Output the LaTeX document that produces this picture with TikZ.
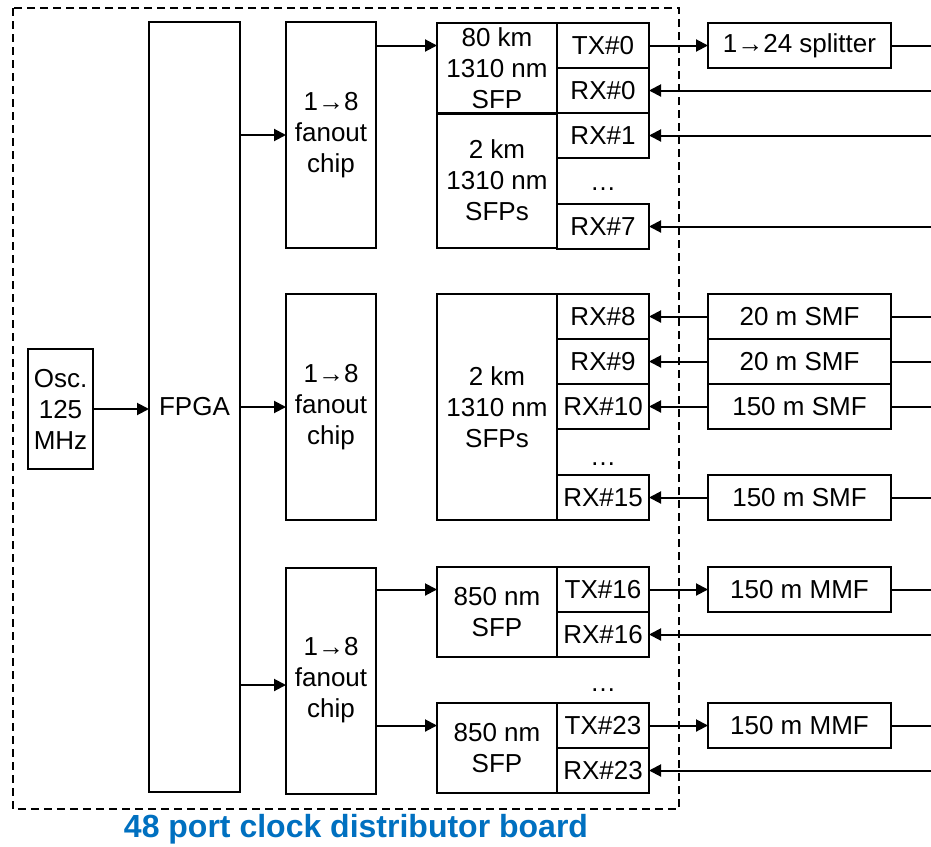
\documentclass[tikz,border=0pt]{standalone}
\usepackage{fontspec}
\setmainfont{Liberation Sans}
\usetikzlibrary{positioning, arrows.meta}
\definecolor{boardblue}{HTML}{0070C0}
\newcommand{\lbl}{\fontsize{13}{15.5}\selectfont}

\begin{document}
\begin{tikzpicture}[x=0.5pt, y=-0.5pt, node distance=0pt, >={Triangle[length=6pt,width=6pt]},
   blk/.style={draw, line width=1pt, inner sep=0pt, outer sep=0pt, align=center, font=\lbl},
   port/.style={blk, minimum width=46pt, minimum height=22.5pt},
   fiber/.style={blk, minimum width=91.5pt, minimum height=22.5pt},
   sfp/.style={blk, minimum width=60pt},
   fan/.style={blk, minimum width=45pt, minimum height=113pt},
   link/.style={line width=1pt}]
   \useasboundingbox (0,0) rectangle (931,846);
   \coordinate (rim) at (931,0);
   \draw[line width=0.8pt, dash pattern=on 4pt off 2.5pt] (13,8) rectangle (679,809);

   \node[blk, minimum width=32.5pt, minimum height=60pt] (osc) at (60.5,409) {Osc.\\125\\MHz};
   \node[blk, minimum width=45.5pt, minimum height=385pt] (fpga) at (194.5,407) {FPGA};
   \node[fan] (fan_0) at (331,135) {1→8\\fanout\\chip};
   \node[fan] (fan_1) at (331,407) {1→8\\fanout\\chip};
   \node[fan] (fan_2) at (331,680.5) {1→8\\fanout\\chip};

   \node[port, anchor=north west] (tx_0) at (557,23) {TX\#0};
   \node[port, below=of tx_0] (rx_0) {RX\#0};
   \node[port, below=of rx_0] (rx_1) {RX\#1};
   \node[port, anchor=south west] (rx_7) at (557,249) {RX\#7};
   \node[font=\lbl] (dots_0) at (603,189) {…};
   \node[sfp, minimum height=45.5pt, anchor=north east] (sfp_0) at (tx_0.north west) {80 km\\1310 nm\\SFP};
   \node[sfp, minimum height=67.5pt, anchor=north east] (sfp_1) at (rx_1.north west) {2 km\\1310 nm\\SFPs};
   \node[fiber, right=29.5pt of tx_0] (split) {1→24 splitter};

   \node[sfp, minimum height=113pt, anchor=north west] (sfp_2) at (437,294) {2 km\\1310 nm\\SFPs};
   \node[port, anchor=north west] (rx_8) at (sfp_2.north east) {RX\#8};
   \node[port, below=of rx_8] (rx_9) {RX\#9};
   \node[port, below=of rx_9] (rx_10) {RX\#10};
   \node[port, anchor=south west] (rx_15) at (sfp_2.south east) {RX\#15};
   \node[font=\lbl] (dots_1) at (603,464) {…};
   \node[fiber, right=29.5pt of rx_8] (smf_8) {20 m SMF};
   \node[fiber, right=29.5pt of rx_9] (smf_9) {20 m SMF};
   \node[fiber, right=29.5pt of rx_10] (smf_10) {150 m SMF};
   \node[fiber, right=29.5pt of rx_15] (smf_15) {150 m SMF};

   \node[sfp, minimum height=45pt, anchor=north west] (sfp_16) at (437,567) {850 nm\\SFP};
   \node[port, anchor=north west] (tx_16) at (sfp_16.north east) {TX\#16};
   \node[port, below=of tx_16] (rx_16) {RX\#16};
   \node[sfp, minimum height=45pt, anchor=north west] (sfp_23) at (437,703) {850 nm\\SFP};
   \node[port, anchor=north west] (tx_23) at (sfp_23.north east) {TX\#23};
   \node[port, below=of tx_23] (rx_23) {RX\#23};
   \node[font=\lbl] (dots_2) at (603,690) {…};
   \node[fiber, right=29.5pt of tx_16] (mmf_16) {150 m MMF};
   \node[fiber, right=29.5pt of tx_23] (mmf_23) {150 m MMF};

   \node[font=\bfseries\fontsize{16}{19}\selectfont, text=boardblue] (board) at (356,829) {48 port clock distributor board};

   \path[->, link]
    (osc) edge (fpga.west |- osc)
    (fpga.east |- fan_0) edge (fan_0)
    (fpga.east |- fan_1) edge (fan_1)
    (fpga.east |- {(0,685)}) edge (fan_2.west |- {(0,685)})
    (fan_0.east |- tx_0) edge (sfp_0.west |- tx_0)
    (fan_2.east |- tx_16) edge (sfp_16.west |- tx_16)
    (fan_2.east |- tx_23) edge (sfp_23.west |- tx_23)
    (tx_0) edge (split)
    (tx_16) edge (mmf_16)
    (tx_23) edge (mmf_23)
    (rim |- rx_0) edge (rx_0)
    (rim |- rx_1) edge (rx_1)
    (rim |- rx_7) edge (rx_7)
    (smf_8) edge (rx_8)
    (smf_9) edge (rx_9)
    (smf_10) edge (rx_10)
    (smf_15) edge (rx_15)
    (rim |- rx_16) edge (rx_16)
    (rim |- rx_23) edge (rx_23)
    ;
   \path[link]
    (split) edge (rim |- split)
    (smf_8) edge (rim |- smf_8)
    (smf_9) edge (rim |- smf_9)
    (smf_10) edge (rim |- smf_10)
    (smf_15) edge (rim |- smf_15)
    (mmf_16) edge (rim |- mmf_16)
    (mmf_23) edge (rim |- mmf_23)
    ;
\end{tikzpicture}
\end{document}
